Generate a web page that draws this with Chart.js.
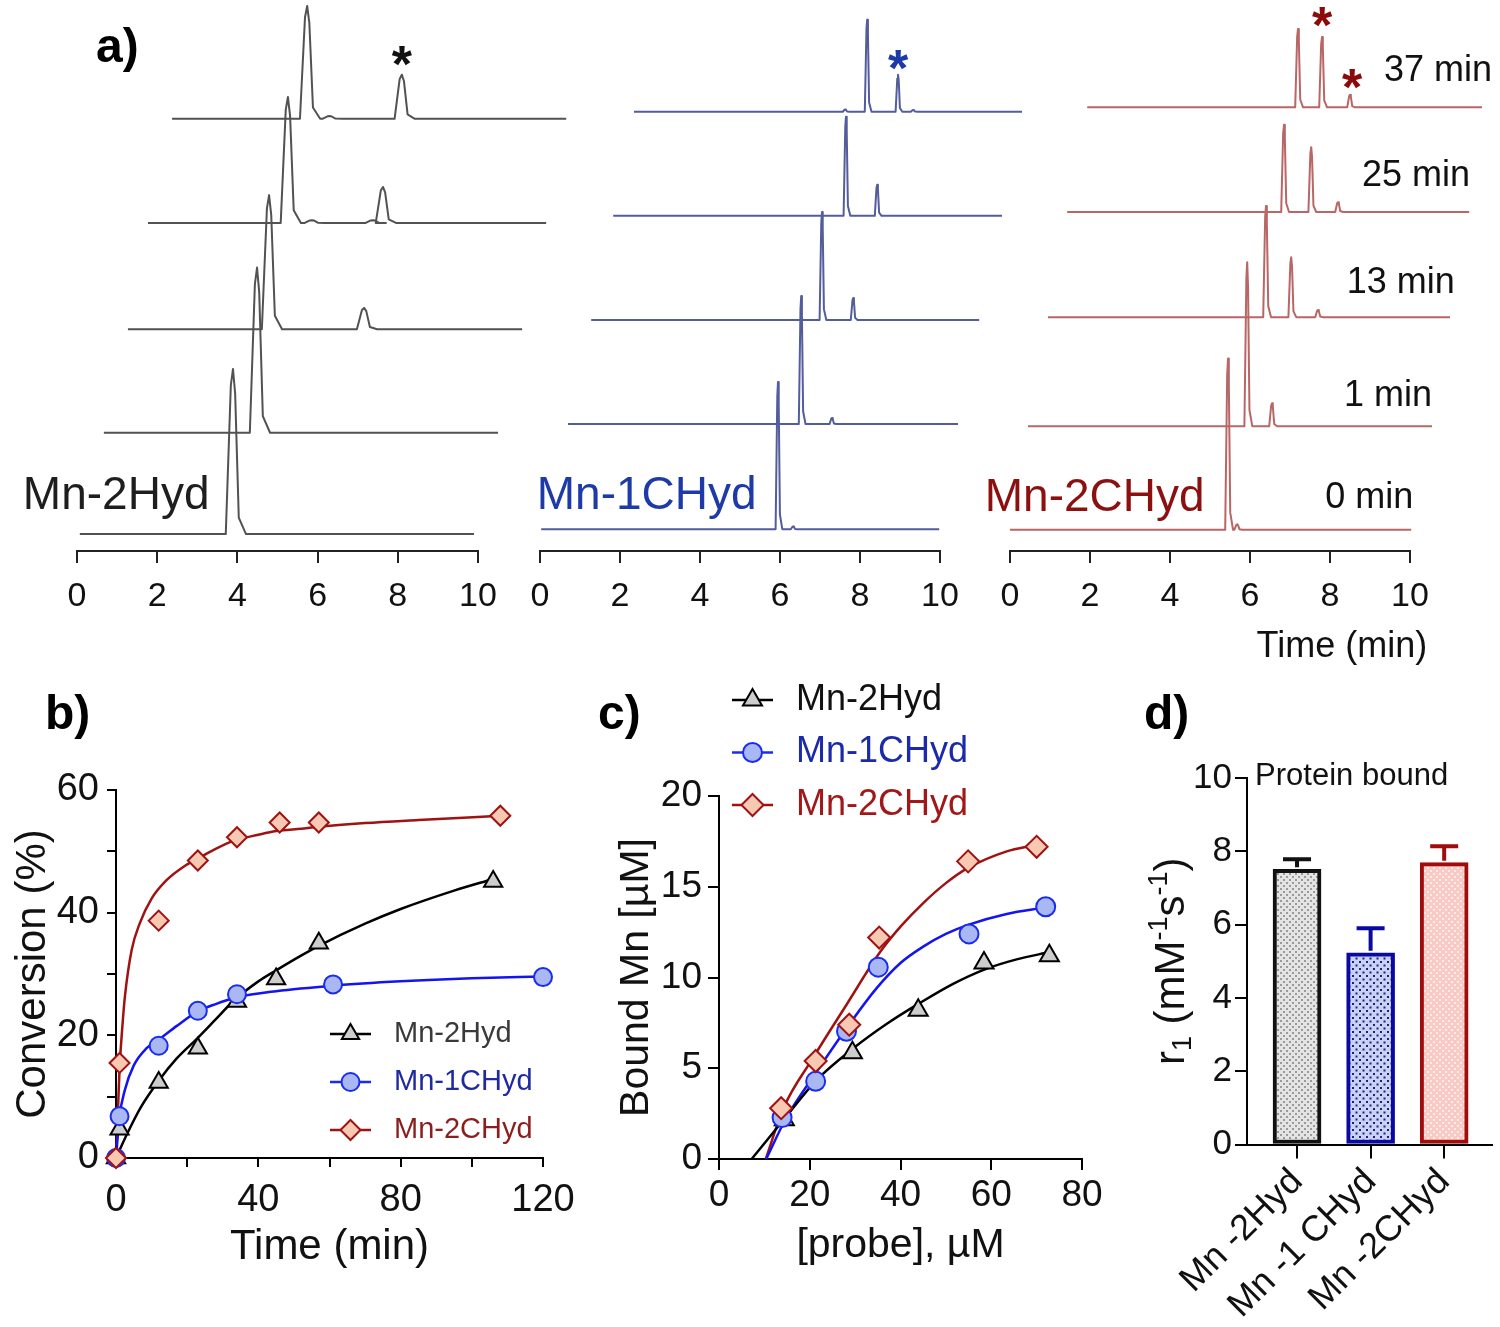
<!DOCTYPE html>
<html>
<head>
<meta charset="utf-8">
<script src="https://cdn.jsdelivr.net/npm/chart.js@4.4.0/dist/chart.umd.min.js"></script>
<style>
body{margin:0;background:#fff;width:1500px;height:1327px;position:relative;overflow:hidden}
canvas{position:absolute}
.tag{position:absolute;font:bold 48px "Liberation Sans",Arial,sans-serif;line-height:48px;color:#000}
</style>
</head>
<body>
<canvas id="a1" width="580" height="620" style="left:0;top:0"></canvas>
<canvas id="a2" width="540" height="620" style="left:500px;top:0"></canvas>
<canvas id="a3" width="530" height="670" style="left:970px;top:0"></canvas>
<canvas id="cb" width="590" height="613" style="left:0;top:660px"></canvas>
<canvas id="cc" width="540" height="610" style="left:580px;top:660px"></canvas>
<canvas id="cd" width="400" height="667" style="left:1100px;top:660px"></canvas>
<div class="tag" style="left:96px;top:22px">a)</div>
<div class="tag" style="left:45px;top:689px">b)</div>
<div class="tag" style="left:598px;top:689px">c)</div>
<div class="tag" style="left:1144px;top:689px">d)</div>
<script>
// ---- a) HPLC traces (bottom to top: 0, 1, 13, 25, 37 min), x in min, signal in % of panel ----
const sampleTimes = ['0 min', '1 min', '13 min', '25 min', '37 min'];

const hyd2Start = [0.07, 0.67, 1.27, 1.77, 2.37];
const hyd2End = [9.9, 10.5, 11.1, 11.7, 12.2];
const hyd2Base = [3.1, 21.7, 40.7, 60.2, 79.3];
const hyd2Peaks = [
  [[3.89, 30.3]],
  [[4.49, 30.3]],
  [[4.79, 24.6], [7.16, 3.9]],
  [[5.26, 23.1], [5.86, 0.5], [7.38, 0.5], [7.63, 6.6]],
  [[5.74, 20.7], [6.3, 0.5], [8.1, 8.1]]
];

const c1Start = [0.03, 0.7, 1.28, 1.83, 2.35];
const c1End = [9.98, 10.45, 10.98, 11.55, 12.05];
const c1Base = [4.0, 23.3, 42.4, 61.5, 80.6];
const c1Peaks = [
  [[5.95, 27], [6.33, 0.5]],
  [[6.53, 23.5], [7.3, 1.1]],
  [[7.05, 19.8], [7.83, 4]],
  [[7.65, 18.2], [8.43, 5.7]],
  [[7.63, 0.4], [8.18, 16.9], [8.95, 6.8], [9.33, 0.3]]
];

const c2Start = [0, 0.45, 0.95, 1.43, 1.93];
const c2End = [10.03, 10.55, 11.0, 11.48, 11.8];
const c2Base = [3.9, 22.9, 42.9, 62.2, 81.4];
const c2Peaks = [
  [[5.45, 31.4], [5.68, 1]],
  [[5.93, 30.1], [6.55, 4.2]],
  [[6.4, 20.4], [7.03, 11], [7.7, 1.3]],
  [[6.85, 16], [7.53, 11.9], [8.2, 1.8]],
  [[7.2, 14.4], [7.8, 12.9], [8.5, 2.3]]
];

// ---- b) conversion vs time ----
const hyd2T = [0, 1, 12, 23, 34, 45, 57, 106];
const hyd2Conv = [0, 4.7, 12.3, 17.9, 25.5, 29.2, 35, 45.1];
const c1T = [0, 1, 12, 23, 34, 61, 120];
const c1Conv = [0, 6.8, 18.3, 24, 26.7, 28.3, 29.5];
const c2T = [0, 1, 12, 23, 34, 46, 57, 108];
const c2Conv = [0, 15.5, 38.7, 48.5, 52.3, 54.7, 54.7, 55.8];

const hyd2FitT = [0, 3, 7, 12, 17, 23, 28, 33, 40, 45, 52, 57, 70, 80, 95, 106];
const hyd2FitConv = [0, 3.8, 8.3, 12.6, 16.2, 19.6, 22.6, 25.6, 28.8, 30.6, 33, 34.6, 38.2, 40.6, 43.6, 45.5];
const c1FitT = [0, 1, 2.5, 5, 8.6, 12, 17, 23, 28, 34, 45, 61, 80, 100, 120];
const c1FitConv = [0, 6.8, 11.1, 15.1, 17.9, 19.3, 21.5, 23.9, 25.1, 26.2, 27.2, 28.1, 28.8, 29.3, 29.6];
const c2FitT = [0, 0.5, 1, 1.8, 2.5, 4.4, 6.7, 10, 14.2, 19, 23, 28, 33, 40, 45, 52, 57, 70, 85, 108];
const c2FitConv = [0, 7, 14.5, 21.5, 26.3, 33.9, 38.3, 42.3, 45.3, 47.5, 48.8, 50.4, 51.7, 52.7, 53.3, 53.7, 54, 54.6, 55.1, 55.8];

// ---- c) bound Mn vs probe ----
const hyd2Probe = [14.4, 29.4, 43.9, 58.4, 72.8];
const hyd2Bound = [2.16, 5.86, 8.2, 10.8, 11.2];
const c1Probe = [13.9, 21.3, 28.1, 35.1, 55.1, 72];
const c1Bound = [2.28, 4.28, 7.04, 10.57, 12.4, 13.9];
const c2Probe = [13.7, 21.3, 28.7, 35.3, 54.9, 70];
const c2Bound = [2.8, 5.4, 7.4, 12.2, 16.4, 17.2];

const hyd2FitProbe = [7.2, 14.2, 21.5, 29.6, 37, 44.3, 51.6, 58.6, 65.6, 72.9];
const hyd2FitBound = [0, 2.15, 4.35, 6.1, 7.45, 8.6, 9.65, 10.45, 11.0, 11.4];
const c1FitProbe = [10.4, 14.9, 21.5, 28.1, 34.7, 40, 45, 50, 54.9, 63.4, 71.8];
const c1FitBound = [0, 2.3, 4.8, 7.2, 9.4, 10.8, 11.7, 12.4, 12.9, 13.5, 13.85];
const c2FitProbe = [10.3, 14.2, 20.8, 28.1, 35.5, 40, 45, 50, 54.6, 63.4, 69.6];
const c2FitBound = [0, 2.8, 5.6, 8.5, 11.4, 12.8, 14.1, 15.2, 16.0, 16.95, 17.3];

// ---- d) relaxivity ----
const dLabels = ['Mn -2Hyd', 'Mn -1 CHyd', 'Mn -2CHyd'];
const r1Values = [7.51, 5.23, 7.69];
const r1Errors = [0.27, 0.67, 0.45];

const FONT = '"Liberation Sans", Arial, sans-serif';
Chart.defaults.font.family = FONT;
Chart.defaults.color = '#111';
Chart.defaults.animation = false;
Chart.defaults.plugins.legend.display = false;
Chart.defaults.plugins.tooltip.enabled = false;

// text placed at data coordinates
const notesPlugin = {
  id: 'notes',
  afterDraw(chart, args, opts) {
    const {ctx, scales: {x, y}} = chart;
    (opts.items || []).forEach(it => {
      ctx.save();
      ctx.font = it.font;
      ctx.fillStyle = it.color;
      ctx.textAlign = it.align || 'left';
      ctx.textBaseline = 'middle';
      ctx.fillText(it.text, x.getPixelForValue(it.x), y.getPixelForValue(it.y));
      ctx.restore();
    });
  }
};

function marker(ctx, style, x, y, r) {
  ctx.beginPath();
  if (style === 'circle') {
    ctx.arc(x, y, r, 0, Math.PI * 2);
  } else if (style === 'triangle') {
    ctx.moveTo(x, y - r);
    ctx.lineTo(x + r * 0.866, y + r / 2);
    ctx.lineTo(x - r * 0.866, y + r / 2);
    ctx.closePath();
  } else {
    ctx.moveTo(x - r, y); ctx.lineTo(x, y - r); ctx.lineTo(x + r, y); ctx.lineTo(x, y + r);
    ctx.closePath();
  }
  ctx.fill();
  ctx.stroke();
}

// legend: line through marker, then coloured name
const keyPlugin = {
  id: 'key',
  afterDraw(chart, args, o) {
    const ctx = chart.ctx;
    o.rows.forEach((d, i) => {
      const y = o.y + i * o.gap;
      ctx.save();
      ctx.strokeStyle = d.borderColor;
      ctx.lineWidth = 2.5;
      ctx.beginPath(); ctx.moveTo(o.x, y); ctx.lineTo(o.x + o.len, y); ctx.stroke();
      ctx.fillStyle = d.backgroundColor;
      ctx.lineWidth = 2;
      marker(ctx, d.pointStyle, o.x + o.len / 2, y, o.r[d.pointStyle]);
      ctx.font = o.font;
      ctx.fillStyle = d.keyColor;
      ctx.textBaseline = 'middle';
      ctx.fillText(d.label, o.tx, y);
      ctx.restore();
    });
  }
};

function tracePoints(start, end, base, peaks, w) {
  const pts = [{x: start, y: base}];
  peaks.forEach(([t, h]) => {
    pts.push({x: t - w * 0.5, y: base});
    pts.push({x: t - w * 0.15, y: base + h * 0.9});
    pts.push({x: t, y: base + h});
    pts.push({x: t + w * 0.15, y: base + h * 0.85});
    pts.push({x: t + w * 0.4, y: base + h * 0.1});
    pts.push({x: t + w * 0.9, y: base});
  });
  pts.push({x: end, y: base});
  return pts;
}

function hplc(id, start, end, base, peaks, w, color, pad, xh, notes) {
  const datasets = base.map((b, i) => ({
    data: tracePoints(start[i], end[i], b, peaks[i], w),
    borderColor: color, borderWidth: 2, pointRadius: 0, clip: false, borderJoinStyle: 'round'
  }));
  return new Chart(document.getElementById(id), {
    type: 'line',
    data: {datasets},
    options: {
      responsive: false,
      layout: {padding: pad},
      scales: {
        x: {
          type: 'linear', min: 0, max: 10,
          ticks: {stepSize: 2, font: {size: 34}, padding: 13, color: '#111', maxRotation: 0},
          grid: {drawOnChartArea: false, tickLength: 12, color: '#222', lineWidth: 2},
          border: {color: '#222', width: 2},
          afterFit: s => { s.height = xh; }
        },
        y: {display: false, min: 0, max: 100}
      },
      plugins: {notes: {items: notes}}
    },
    plugins: [notesPlugin]
  });
}

const star = (x, y, color) => ({x, y, text: '*', color, font: 'bold 52px ' + FONT, align: 'center'});

hplc('a1', hyd2Start, hyd2End, hyd2Base, hyd2Peaks, 0.36, '#525252',
  {left: 77, right: 102, top: 6, bottom: 0}, 69, [
    {x: -1.35, y: 10.1, text: 'Mn-2Hyd', color: '#1e1e1e', font: '46px ' + FONT},
    star(8.1, 88.7, '#111')
  ]);

hplc('a2', c1Start, c1End, c1Base, c1Peaks, 0.12, '#535d9c',
  {left: 40, right: 100, top: 6, bottom: 0}, 69, [
    {x: -0.08, y: 10.1, text: 'Mn-1CHyd', color: '#1d3aa8', font: '46px ' + FONT},
    star(8.95, 88, '#1d3aa8')
  ]);

const stampX = [10.08, 10.55, 11.12, 11.5, 12.05];
const stampY = [9.7, 28.4, 49.2, 68.8, 88.1];
hplc('a3', c2Start, c2End, c2Base, c2Peaks, 0.14, '#b86666',
  {left: 40, right: 90, top: 6, bottom: 0}, 119, [
    {x: -0.63, y: 9.7, text: 'Mn-2CHyd', color: '#8c1010', font: '46px ' + FONT},
    star(7.8, 95.9, '#8b0a0a'),
    star(8.55, 84.5, '#8b0a0a'),
    {x: 10.43, y: -17.6, text: 'Time (min)', color: '#111', font: '36px ' + FONT, align: 'right'}
  ].concat(sampleTimes.map((t, i) => ({x: stampX[i], y: stampY[i], text: t, color: '#111', font: '36px ' + FONT, align: 'right'}))));

// ---- shared styles for b) and c) ----
const styles = {
  hyd2: {label: 'Mn-2Hyd', pointStyle: 'triangle', backgroundColor: '#cdcdcd', borderColor: '#000', line: '#000'},
  c1: {label: 'Mn-1CHyd', pointStyle: 'circle', backgroundColor: '#a9b8f2', borderColor: '#1a2cf0', line: '#1414f0'},
  c2: {label: 'Mn-2CHyd', pointStyle: 'rectRot', backgroundColor: '#f8c9b2', borderColor: '#a01212', line: '#a01212'}
};

function pts(xs, ys) { return xs.map((x, i) => ({x, y: ys[i]})); }

function scatterSet(s, xs, ys, r, order, keyColor) {
  return {
    label: s.label, data: pts(xs, ys), showLine: false, pointStyle: s.pointStyle,
    pointRadius: r, pointBorderWidth: 2, backgroundColor: s.backgroundColor, borderColor: s.borderColor,
    pointBackgroundColor: s.backgroundColor, pointBorderColor: s.borderColor, clip: false, order, keyColor
  };
}
function fitSet(s, xs, ys) {
  return {data: pts(xs, ys), borderColor: s.line, borderWidth: 2.5, pointRadius: 0,
    cubicInterpolationMode: 'monotone', order: 5, clip: false};
}

function axisOpts(min, max, step, labelEvery, size, tick, pad, title, tsize, fit) {
  return {
    type: 'linear', min, max,
    ticks: {stepSize: step, autoSkip: false, maxRotation: 0, font: {size}, padding: pad, color: '#111',
      callback: v => (v % labelEvery === 0 ? v : '')},
    grid: {drawOnChartArea: false, tickLength: tick, color: '#000', lineWidth: 2},
    border: {color: '#000', width: 2},
    title: {display: true, text: title, font: {size: tsize}, padding: 0, color: '#111'},
    afterFit: fit
  };
}

const keyRows = {
  id: 'keyRows',
  beforeInit(chart) { chart.options.plugins.key.rows = chart.data.datasets.filter(d => d.keyColor); }
};

// b)
new Chart(document.getElementById('cb'), {
  type: 'line',
  data: {datasets: [
    scatterSet(styles.hyd2, hyd2T, hyd2Conv, 10.5, 2, '#3a3a3a'),
    scatterSet(styles.c1, c1T, c1Conv, 9, 1, '#1f2aa0'),
    scatterSet(styles.c2, c2T, c2Conv, 10, 0, '#8a1f1f'),
    fitSet(styles.hyd2, hyd2FitT, hyd2FitConv),
    fitSet(styles.c1, c1FitT, c1FitConv),
    fitSet(styles.c2, c2FitT, c2FitConv)
  ]},
  options: {
    responsive: false,
    layout: {padding: {left: 8, top: 130, right: 47, bottom: 0}},
    scales: {
      x: axisOpts(0, 120, 20, 40, 38, 9, 11, 'Time (min)', 42, s => { s.height = 115; }),
      y: axisOpts(0, 60, 10, 20, 38, 9, 8, 'Conversion (%)', 42, s => { s.width = 108; })
    },
    plugins: {key: {x: 330, len: 41, tx: 394, y: 374, gap: 48, font: '29px ' + FONT, r: {triangle: 10, circle: 9, rectRot: 10}}}
  },
  plugins: [keyRows, keyPlugin]
});

// c)
new Chart(document.getElementById('cc'), {
  type: 'line',
  data: {datasets: [
    scatterSet(styles.hyd2, hyd2Probe, hyd2Bound, 11, 2, '#111'),
    scatterSet(styles.c1, c1Probe, c1Bound, 9.5, 1, '#1a2aa8'),
    scatterSet(styles.c2, c2Probe, c2Bound, 11, 0, '#a01818'),
    fitSet(styles.hyd2, hyd2FitProbe, hyd2FitBound),
    fitSet(styles.c1, c1FitProbe, c1FitBound),
    fitSet(styles.c2, c2FitProbe, c2FitBound)
  ]},
  options: {
    responsive: false,
    layout: {padding: {left: 32, top: 136, right: 38, bottom: 0}},
    scales: {
      x: axisOpts(0, 80, 20, 20, 37, 11, 4, '[probe], \u00b5M', 41, s => { s.height = 111; }),
      y: axisOpts(0, 20, 5, 5, 37, 11, 6, 'Bound Mn [\u00b5M]', 41, s => { s.width = 107; })
    },
    plugins: {key: {x: 152, len: 41, tx: 216, y: 40, gap: 52.5, font: '36px ' + FONT, r: {triangle: 11, circle: 9.5, rectRot: 11}}}
  },
  plugins: [keyRows, keyPlugin]
});

// d)
const dCanvas = document.getElementById('cd');
function dots(bg, dot, step) {
  const c = document.createElement('canvas');
  c.width = c.height = step;
  const g = c.getContext('2d');
  g.fillStyle = bg; g.fillRect(0, 0, step, step);
  g.fillStyle = dot;
  g.fillRect(0, 0, 2, 2);
  g.fillRect(step / 2, step / 2, 2, 2);
  return dCanvas.getContext('2d').createPattern(c, 'repeat');
}
const barFill = [dots('#e4e4e4', '#9a9a9a', 6), dots('#c9d2f4', '#1c2470', 7), dots('#f9c9c4', '#fdeceb', 6)];
const barEdge = ['#111', '#0a0aa0', '#a00c0c'];

const errPlugin = {
  id: 'errbars',
  afterDatasetsDraw(chart) {
    const {ctx, scales: {x, y}} = chart;
    r1Values.forEach((v, i) => {
      const px = x.getPixelForValue(i), top = y.getPixelForValue(v + r1Errors[i]), base = y.getPixelForValue(v) - 2;
      ctx.save();
      ctx.strokeStyle = barEdge[i];
      ctx.lineWidth = 4;
      ctx.beginPath();
      ctx.moveTo(px, base); ctx.lineTo(px, top);
      ctx.moveTo(px - 14, top); ctx.lineTo(px + 14, top);
      ctx.stroke();
      ctx.restore();
    });
  }
};

// y title with sub/superscripts
const r1Title = {
  id: 'r1Title',
  afterDraw(chart) {
    const ctx = chart.ctx, area = chart.chartArea;
    const parts = [['r', 42, 0], ['1', 27, 12], [' (mM', 42, 0], ['-1', 27, -12], ['s', 42, 0], ['-1', 27, -12], [')', 42, 0]];
    ctx.save();
    let total = 0;
    parts.forEach(p => { ctx.font = p[1] + 'px ' + FONT; total += ctx.measureText(p[0]).width; });
    ctx.translate(72, (area.top + area.bottom) / 2);
    ctx.rotate(-Math.PI / 2);
    ctx.textBaseline = 'middle';
    ctx.fillStyle = '#111';
    let x = -total / 2;
    parts.forEach(p => {
      ctx.font = p[1] + 'px ' + FONT;
      ctx.fillText(p[0], x, p[2]);
      x += ctx.measureText(p[0]).width;
    });
    ctx.restore();
  }
};

new Chart(dCanvas, {
  type: 'bar',
  data: {datasets: [{
    data: r1Values.map((v, i) => ({x: i, y: v})),
    backgroundColor: barFill, borderColor: barEdge, borderWidth: 4, borderSkipped: false, barThickness: 48
  }]},
  options: {
    responsive: false,
    layout: {padding: {left: 48, top: 118, right: 8, bottom: 0}},
    scales: {
      x: {
        type: 'linear', min: -0.68, max: 2.65, offset: false,
        afterBuildTicks: s => { s.ticks = dLabels.map((_, i) => ({value: i})); },
        ticks: {autoSkip: false, minRotation: 45, maxRotation: 45, font: {size: 36}, padding: 2, color: '#111',
          callback: v => dLabels[v]},
        grid: {offset: false, drawOnChartArea: false, tickLength: 14, color: '#000', lineWidth: 2},
        border: {color: '#000', width: 2},
        afterFit: s => { s.height = 182.5; }
      },
      y: {
        min: 0, max: 10,
        ticks: {stepSize: 2, font: {size: 35}, padding: 3, color: '#111'},
        grid: {drawOnChartArea: false, tickLength: 12, color: '#000', lineWidth: 2},
        border: {color: '#000', width: 2},
        afterFit: s => { s.width = 99; }
      }
    },
    plugins: {notes: {items: [{x: -0.57, y: 10.05, text: 'Protein bound', color: '#111', font: '31px ' + FONT}]}}
  },
  plugins: [errPlugin, r1Title, notesPlugin]
});
</script>
</body>
</html>
